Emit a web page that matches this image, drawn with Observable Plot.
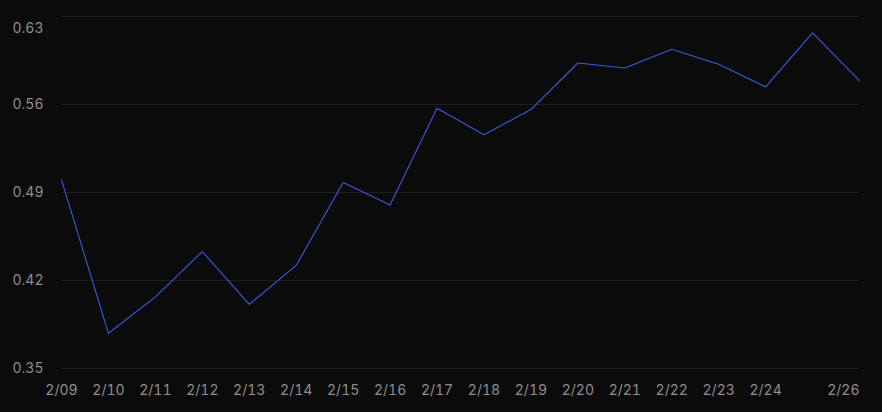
<!DOCTYPE html>
<html>
<head>
<meta charset="utf-8">
<script src="https://cdn.jsdelivr.net/npm/d3@7"></script>
<script src="https://cdn.jsdelivr.net/npm/@observablehq/plot@0.6"></script>
<style>
  html, body { margin: 0; padding: 0; background: #0b0b0c; }
  #chart { width: 882px; height: 412px; }
  svg { display: block; }
</style>
</head>
<body>
<div id="chart"></div>
<script>
const dates = ["2/09","2/10","2/11","2/12","2/13","2/14","2/15","2/16","2/17","2/18","2/19","2/20","2/21","2/22","2/23","2/24","2/25","2/26"];
const values = [0.500,0.378,0.407,0.443,0.401,0.432,0.498,0.480,0.557,0.536,0.556,0.593,0.589,0.604,0.592,0.574,0.617,0.579];
const yTicks = [0.35,0.42,0.49,0.56,0.63];
const xTicksCentered = ["2/09","2/10","2/11","2/12","2/13","2/14","2/15","2/16","2/17","2/18","2/19","2/20","2/21","2/22","2/23","2/24"];
const xTicksEnd = ["2/26"];

const data = dates.map((d, i) => ({i, date: d, value: values[i]}));
const idx = d => dates.indexOf(d);

const textColor = "#8e8e8e";
const font = "Inter, 'Open Sans', sans-serif";

const chart = Plot.plot({
  width: 882,
  height: 412,
  marginLeft: 61,
  marginRight: 23,
  marginTop: 16,
  marginBottom: 44,
  style: {background: "#0b0b0c", color: textColor, fontFamily: font, fontSize: "14px"},
  x: {type: "linear", domain: [0, dates.length - 1], axis: null, label: null},
  y: {domain: [0.35, 0.63], axis: null, label: null},
  marks: [
    Plot.ruleY(yTicks, {stroke: "#1e1e20", strokeWidth: 1}),
    Plot.axisY(yTicks.slice(0, 4), {tickSize: 0, tickPadding: 18, tickFormat: d3.format(".2f"), fill: textColor, fontSize: 14, label: null}),
    Plot.axisY([0.63], {tickSize: 0, tickPadding: 18, tickFormat: d3.format(".2f"), fill: textColor, fontSize: 14, dy: 12, label: null}),
    Plot.axisX(xTicksCentered.map(idx), {tickSize: 0, tickPadding: 17, tickFormat: i => dates[i], fill: textColor, fontSize: 14, label: null}),
    Plot.axisX(xTicksEnd.map(idx), {tickSize: 0, tickPadding: 17, tickFormat: i => dates[i], fill: textColor, fontSize: 14, textAnchor: "end", label: null}),
    Plot.lineY(data, {x: "i", y: "value", stroke: "#3b5bdb", strokeWidth: 1.1})
  ]
});
document.getElementById("chart").appendChild(chart);
</script>
</body>
</html>
